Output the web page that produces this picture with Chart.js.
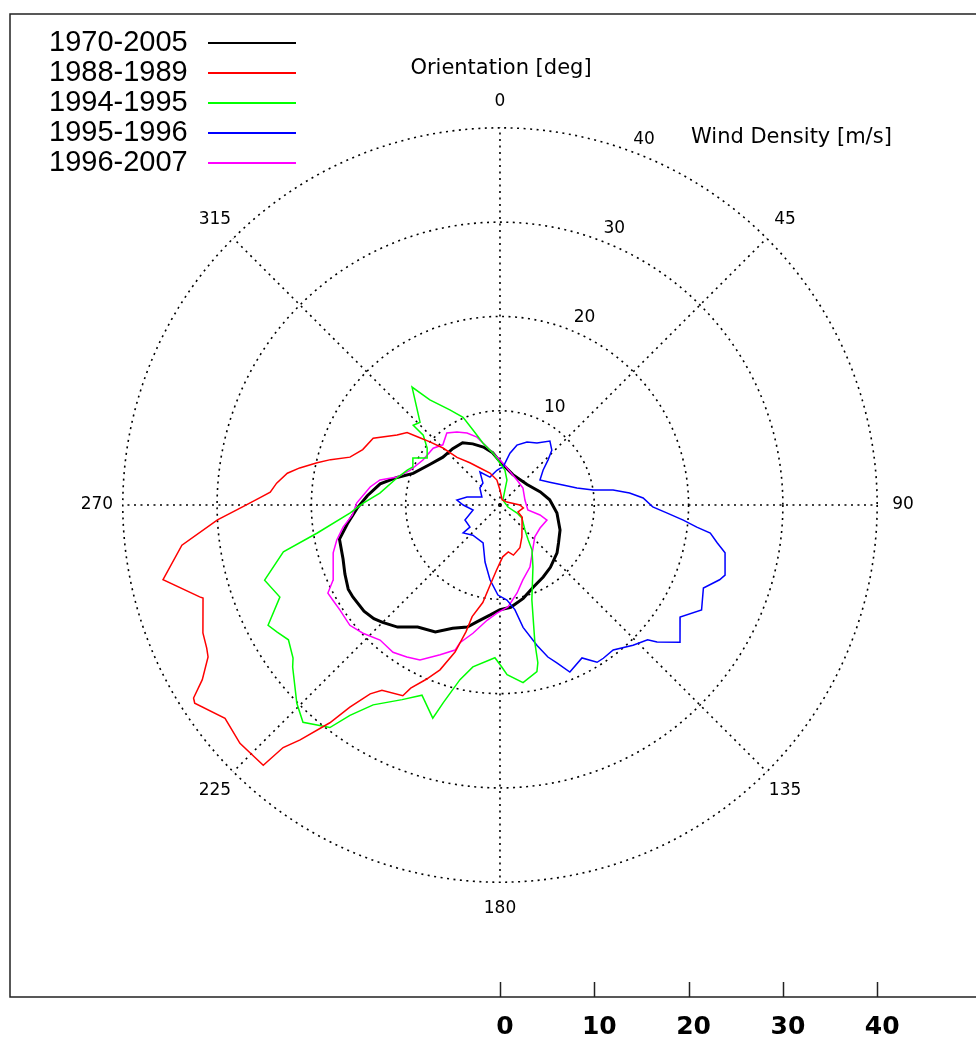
<!DOCTYPE html>
<html>
<head>
<meta charset="utf-8">
<script src="https://cdn.jsdelivr.net/npm/chart.js@4.4.0/dist/chart.umd.min.js"></script>
<style>
  html, body { margin: 0; padding: 0; background: #fff; }
</style>
</head>
<body>
<canvas id="myChart" width="976" height="1037"></canvas>
<script>
// Grille polaire et axe du bas
const ringValues = [10, 20, 30, 40];
const spokeAngles = [0, 45, 90, 135, 180, 225, 270, 315];
const axisTicks = [0, 10, 20, 30, 40];
const seriesLabels = ['1970-2005', '1988-1989', '1994-1995', '1995-1996', '1996-2007'];

// Orientation [deg] et vitesse [m/s]
const deg1970 = [0, 4, 23, 53, 72, 84, 98, 112.6, 123, 130, 141, 149, 158, 166, 174, 180, 185, 191, 195, 201, 207, 214, 220, 225, 228, 232, 238, 241, 246, 251, 258, 263, 269, 274, 280, 285, 290, 300, 310, 320, 329, 336, 344, 352];
const speed1970 = [4.6, 4.3, 3.5, 3.6, 4.5, 5.3, 6.1, 6.9, 7.4, 7.9, 8.5, 8.9, 9.4, 10.2, 10.9, 11.1, 11.7, 12.6, 13.4, 14.0, 15.1, 15.6, 16.9, 17.6, 18.0, 18.3, 18.4, 18.4, 18.0, 17.6, 17.4, 16.3, 15.1, 14.1, 12.9, 11.3, 9.8, 8.6, 7.9, 7.8, 7.7, 7.1, 6.4, 5.6];

const deg1988 = [0, 22, 67, 90, 97, 111, 119, 132, 145.5, 155, 165, 170, 177, 183, 187, 190, 194, 195, 197, 200, 203, 206, 207, 212.5, 214.5, 216.6, 218, 220.4, 221.8, 222.3, 227.5, 232.2, 237, 237.8, 239.6, 242.5, 244, 246.7, 252.6, 253, 257.5, 262.8, 267, 269.6, 271.7, 273.2, 275.6, 278.5, 280.5, 283, 285, 287.7, 292, 297.8, 304.2, 308, 310, 312, 315, 318, 324.5, 331.6, 342.6, 353];
const speed1988 = [1.6, 0.6, 0.8, 2.1, 2.5, 2.05, 2.7, 3.15, 4.1, 5.0, 5.5, 5.05, 5.5, 6.9, 8.55, 10.5, 12.2, 13.9, 16.3, 18.6, 20.1, 21.6, 22.7, 23.3, 24.3, 26.7, 29.3, 32.7, 34.5, 37.3, 37.4, 36.9, 38.6, 38.4, 36.6, 34.9, 34.6, 34.3, 33.0, 33.3, 36.6, 34.0, 30.0, 27.3, 25.5, 24.4, 23.8, 22.8, 21.6, 19.9, 18.6, 16.7, 15.7, 15.2, 13.2, 12.5, 11.1, 10.0, 8.55, 6.8, 5.5, 4.46, 3.55, 2.67];

const deg1994 = [0, 8, 15.6, 18, 31, 104, 115, 120.6, 135, 141, 144.6, 152, 161.4, 165.8, 166.5, 167.5, 172.6, 177.6, 179.3, 181.9, 189.5, 192.9, 196, 197.5, 202.3, 206.7, 212.4, 215.5, 217.4, 222.2, 225.7, 232, 233.5, 237.5, 240.3, 242.6, 247.3, 252.3, 257.8, 261.3, 267, 270.8, 275.7, 284.7, 290.6, 293.6, 298.4, 302.8, 308, 312.3, 312.6, 316, 323.3, 326.3, 332.2, 337.2, 340.2, 344.7, 352.3];
const speed1994 = [4.45, 3.75, 2.75, 1.7, 0.6, 0.87, 2.0, 2.7, 3.75, 4.75, 5.86, 7.45, 10.6, 15.1, 17.2, 18.1, 19.0, 18.0, 17.2, 16.2, 17.4, 19.0, 21.8, 23.7, 21.8, 23.1, 25.1, 27.4, 29.7, 31.1, 30.1, 27.9, 27.3, 26.6, 27.2, 27.7, 25.3, 26.2, 23.5, 19.6, 15.9, 14.5, 12.8, 11.3, 10.5, 10.1, 10.5, 9.2, 9.8, 11.0, 12.5, 12.2, 15.6, 13.4, 11.4, 10.1, 8.45, 6.8, 5.56];

const deg1995 = [0, 4.5, 10.9, 15.8, 23.2, 30.8, 38, 43.4, 46.8, 50.9, 58, 65.3, 72.4, 77.5, 80.8, 82.4, 84.7, 87.2, 90.7, 92.7, 94.7, 96.4, 97.6, 99.9, 102, 107.3, 108.8, 112.2, 117.5, 121.9, 127.3, 131.1, 132.4, 136.5, 142, 146, 148.3, 151.8, 157.3, 160.2, 162.5, 165.2, 169.3, 171.9, 175.8, 181.3, 187.6, 194.7, 204, 222, 232.9, 233.7, 246.8, 259.5, 270, 276.6, 283.6, 294, 310.4, 322.3, 328.8, 340.3, 355];
const speed1995 = [3.9, 4.0, 5.6, 6.6, 7.27, 7.66, 8.6, 8.0, 7.0, 5.9, 5.0, 5.8, 7.0, 8.36, 10.0, 12.1, 13.8, 15.2, 16.2, 17.7, 19.5, 21.0, 22.5, 23.4, 24.4, 25.0, 24.6, 23.3, 24.1, 22.5, 24.0, 22.1, 21.2, 20.5, 19.5, 19.6, 19.6, 18.4, 19.2, 17.8, 16.9, 15.4, 13.2, 11.2, 10.1, 9.55, 8.0, 6.25, 4.4, 4.3, 4.9, 3.95, 4.04, 2.9, 3.9, 4.6, 3.6, 2.1, 2.8, 2.95, 4.1, 3.15, 3.7];

const deg1996 = [0, 10.7, 34.2, 53.5, 78.7, 100, 104, 107.7, 119.9, 132.4, 142.5, 154.2, 163, 169, 175.5, 181.6, 186.4, 191.9, 196.2, 197.2, 201.8, 207.3, 211.5, 216, 221.6, 226.9, 231.3, 236.7, 240.4, 242.9, 245.8, 254, 257.9, 262, 266.1, 270.8, 277.9, 281.8, 285.2, 291.3, 300.3, 310.4, 316.5, 323.6, 329.5, 335.4, 341.3, 347.4, 356.4];
const speed1996 = [4.77, 4.0, 3.2, 3.03, 2.7, 3.0, 4.37, 5.23, 4.9, 5.0, 5.75, 7.3, 8.3, 9.5, 10.85, 11.46, 12.3, 13.9, 15.2, 16.1, 17.1, 18.5, 18.9, 19.3, 19.15, 19.9, 20.4, 20.3, 20.4, 20.5, 19.4, 18.4, 17.7, 16.8, 15.7, 15.2, 13.9, 13.0, 11.3, 10.2, 9.46, 9.3, 8.8, 9.5, 9.0, 8.4, 7.6, 6.3, 5.1];

// Orientation 0 = nord, sens horaire
function toXY(deg, r) {
    const t = deg * Math.PI / 180;
    return { x: r * Math.sin(t), y: r * Math.cos(t) };
}
function loop(degs, speeds) {
    const pts = degs.map((d, i) => toXY(d, speeds[i]));
    pts.push(pts[0]);
    return pts;
}

const lineColors = ['#000000', '#ff0000', '#00ff00', '#0000ff', '#ff00ff'];
const lineWidths = [3, 1.5, 1.5, 1.5, 1.5];
const loops = [
    loop(deg1970, speed1970),
    loop(deg1988, speed1988),
    loop(deg1994, speed1994),
    loop(deg1995, speed1995),
    loop(deg1996, speed1996)
];

const datasets = loops.map((pts, i) => ({
    label: seriesLabels[i],
    data: pts,
    showLine: true,
    fill: false,
    borderColor: lineColors[i],
    backgroundColor: lineColors[i],
    borderWidth: lineWidths[i],
    pointRadius: 0,
    tension: 0,
    order: i === 0 ? 10 : i
}));

const FONT = '"DejaVu Sans", "Liberation Sans", Arial, sans-serif';

// Grille polaire (cercles + rayons) dessinée avec les échelles du graphique
const polarGrid = {
    id: 'polarGrid',
    beforeDatasetsDraw(chart) {
        const { ctx, scales: { x, y } } = chart;
        const cx = x.getPixelForValue(0), cy = y.getPixelForValue(0);
        const outer = ringValues[ringValues.length - 1];
        ctx.save();
        ctx.strokeStyle = '#000';
        ctx.lineWidth = 1.6;
        ctx.setLineDash([2, 4.5]);
        ringValues.forEach(r => {
            ctx.beginPath();
            ctx.arc(cx, cy, x.getPixelForValue(r) - cx, 0, Math.PI * 2);
            ctx.stroke();
        });
        spokeAngles.forEach(a => {
            const p = toXY(a, outer);
            ctx.beginPath();
            ctx.moveTo(cx, cy);
            ctx.lineTo(x.getPixelForValue(p.x), y.getPixelForValue(p.y));
            ctx.stroke();
        });
        ctx.setLineDash([]);

        ctx.fillStyle = '#000';
        ctx.textAlign = 'center';
        ctx.textBaseline = 'middle';
        ctx.font = '17px ' + FONT;
        spokeAngles.forEach(a => {
            const p = toXY(a, outer + 2.75);
            ctx.fillText(String(a), x.getPixelForValue(p.x), y.getPixelForValue(p.y));
        });
        ringValues.forEach(r => {
            const p = toXY(18.4, r);
            ctx.fillText(String(r), x.getPixelForValue(p.x) + 25, y.getPixelForValue(p.y) - 8);
        });

        ctx.font = '21px ' + FONT;
        ctx.fillText('Orientation [deg]', cx + 1, 69);
        ctx.textAlign = 'left';
        ctx.fillText('Wind Density [m/s]', 691, 138);
        ctx.restore();
    },
    afterDraw(chart) {
        const { ctx, chartArea: a, scales: { x } } = chart;
        ctx.save();
        ctx.strokeStyle = '#222';
        ctx.lineWidth = 1.5;
        ctx.beginPath();
        ctx.moveTo(a.right, a.top);
        ctx.lineTo(a.left, a.top);
        ctx.lineTo(a.left, a.bottom);
        ctx.lineTo(a.right, a.bottom);
        ctx.stroke();
        axisTicks.forEach(v => {
            const px = Math.round(x.getPixelForValue(v)) + 0.5;
            ctx.beginPath();
            ctx.moveTo(px, a.bottom);
            ctx.lineTo(px, a.bottom - 15);
            ctx.stroke();
        });

        // Légende
        ctx.font = '29px "Liberation Sans", Arial, sans-serif';
        ctx.fillStyle = '#000';
        ctx.textAlign = 'left';
        ctx.textBaseline = 'middle';
        seriesLabels.forEach((lab, i) => {
            const ly = 43 + i * 30;
            ctx.fillText(lab, 49, ly);
            ctx.strokeStyle = lineColors[i];
            ctx.lineWidth = 2;
            ctx.beginPath();
            ctx.moveTo(208, ly);
            ctx.lineTo(296, ly);
            ctx.stroke();
        });
        ctx.restore();
    }
};

const ctx = document.getElementById('myChart').getContext('2d');
const myChart = new Chart(ctx, {
    type: 'scatter',
    data: { datasets: datasets },
    options: {
        responsive: false,
        animation: false,
        devicePixelRatio: 1,
        layout: { padding: { left: 10, top: 14, right: 0, bottom: 0 } },
        plugins: {
            legend: { display: false },
            tooltip: { enabled: false }
        },
        scales: {
            x: {
                type: 'linear',
                min: -51.96,
                max: 50.48,
                position: 'bottom',
                afterBuildTicks: axis => { axis.ticks = axisTicks.map(v => ({ value: v })); },
                afterFit: scale => { scale.height = 40; },
                grid: { display: false, drawTicks: false },
                border: { display: false },
                ticks: {
                    autoSkip: false,
                    maxRotation: 0,
                    padding: 15,
                    labelOffset: 5,
                    color: '#000',
                    font: { family: FONT, size: 25, weight: 'bold' }
                }
            },
            y: {
                type: 'linear',
                min: -52.17,
                max: 52.07,
                display: false
            }
        }
    },
    plugins: [polarGrid]
});
</script>
</body>
</html>
